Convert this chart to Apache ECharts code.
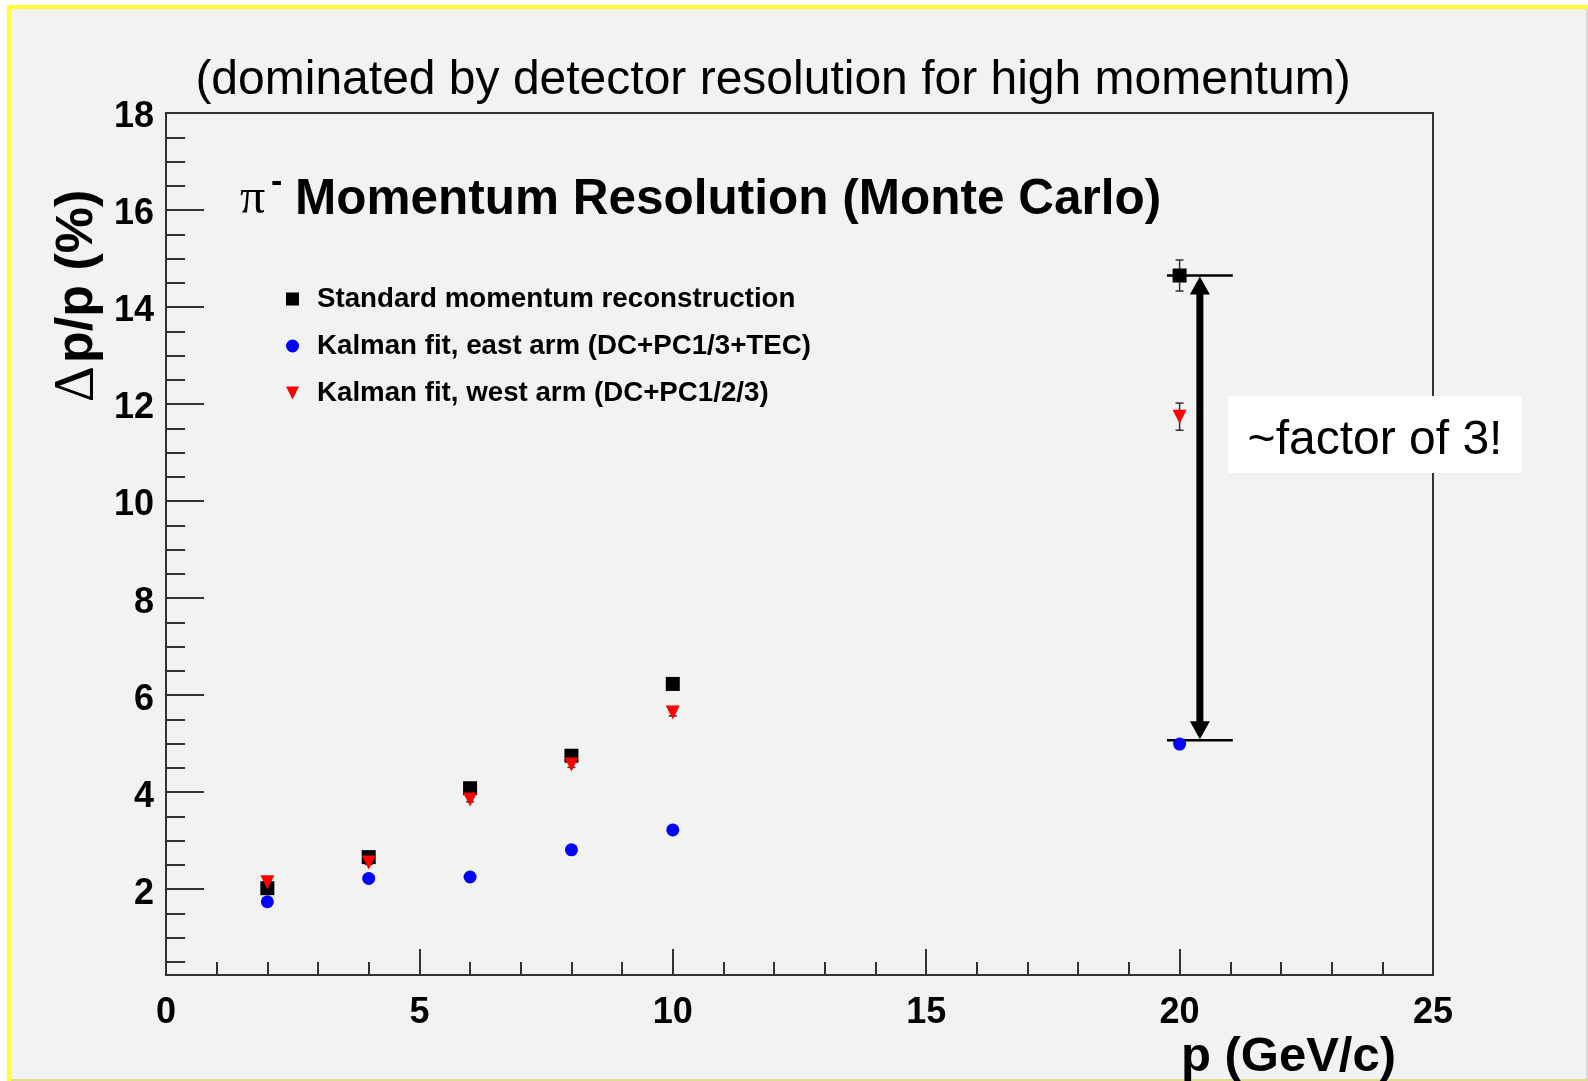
<!DOCTYPE html>
<html><head><meta charset="utf-8">
<script src="https://cdn.jsdelivr.net/npm/echarts@6/dist/echarts.min.js"></script>
<style>html,body{margin:0;padding:0;background:#fff;}#c{width:1588px;height:1081px;}</style>
</head><body><div id="c"></div>
<script>
// ---- data ----
const pValues = [2, 4, 6, 8, 10, 20];
const standardRes = [2.02, 2.66, 4.08, 4.75, 6.23, 14.65];
const standardErr = [0.03, 0.04, 0.05, 0.06, 0.08, 0.32];
const eastRes = [1.74, 2.22, 2.25, 2.81, 3.22, 4.99];
const eastErr = [0.02, 0.03, 0.03, 0.04, 0.05, 0.06];
const westRes = [2.14, 2.55, 3.85, 4.57, 5.64, 11.74];
const westErr = [0.03, 0.04, 0.05, 0.06, 0.07, 0.28];
const seriesNames = ['Standard momentum reconstruction', 'Kalman fit, east arm (DC+PC1/3+TEC)', 'Kalman fit, west arm (DC+PC1/2/3)'];
const bracketX = [19.75, 21.05];
const bracketY = [14.65, 5.07];
const arrowX = 20.4;
const xRange = [0, 25];
const yRange = [0.23, 18];
const subtitleText = '(dominated by detector resolution for high momentum)';
const titleText = 'Momentum Resolution (Monte Carlo)';
const noteText = '~factor of 3!';

const FONT = '"Liberation Sans", Arial, Helvetica, sans-serif';
const SERIF = '"Liberation Serif", "Times New Roman", serif';

function pts(ys){ return pValues.map((x,i)=>[x, ys[i]]); }
function errPts(ys, es){ return pValues.map((x,i)=>[x, ys[i], es[i]]); }

function renderErr(params, api){
  const x = api.value(0), y = api.value(1), e = api.value(2);
  const hi = api.coord([x, y + e]), lo = api.coord([x, y - e]);
  const cw = 4, st = {stroke:'#333', lineWidth:1.5};
  return {type:'group', children:[
    {type:'line', shape:{x1:hi[0], y1:hi[1], x2:lo[0], y2:lo[1]}, style:st},
    {type:'line', shape:{x1:hi[0]-cw, y1:hi[1], x2:hi[0]+cw, y2:hi[1]}, style:st},
    {type:'line', shape:{x1:lo[0]-cw, y1:lo[1], x2:lo[0]+cw, y2:lo[1]}, style:st}
  ]};
}

function renderAnno(params, api){
  const children = [];
  bracketY.forEach(v => {
    const a = api.coord([bracketX[0], v]), b = api.coord([bracketX[1], v]);
    children.push({type:'line', shape:{x1:a[0], y1:a[1], x2:b[0], y2:b[1]}, style:{stroke:'#000', lineWidth:2.5}});
  });
  const top = api.coord([arrowX, bracketY[0]]), bot = api.coord([arrowX, bracketY[1]]);
  const hw = 10, hh = 19;
  children.push({type:'line', shape:{x1:top[0], y1:top[1]+hh-1, x2:bot[0], y2:bot[1]-hh+1}, style:{stroke:'#000', lineWidth:7}});
  children.push({type:'polygon', shape:{points:[[top[0], top[1]+1], [top[0]-hw, top[1]+hh], [top[0]+hw, top[1]+hh]]}, style:{fill:'#000'}});
  children.push({type:'polygon', shape:{points:[[bot[0], bot[1]-1], [bot[0]-hw, bot[1]-hh], [bot[0]+hw, bot[1]-hh]]}, style:{fill:'#000'}});
  return {type:'group', children};
}

const chart = echarts.init(document.getElementById('c'), null, {renderer:'canvas'});
const axisColor = '#333';
chart.setOption({
  animation: false,
  backgroundColor: '#ffffff',
  textStyle: {fontFamily: FONT},
  grid: {left:166, right:155, top:113, bottom:106, show:true, borderColor:axisColor, borderWidth:2, backgroundColor:'transparent'},
  legend: {
    orient:'vertical', left:281, top:280, itemWidth:13, itemHeight:13, itemGap:19,
    textStyle:{fontSize:27.7, fontWeight:'bold', fontFamily:FONT, color:'#000', padding:[0,0,0,13]},
    data:[{name:seriesNames[0], icon:'rect'}, {name:seriesNames[1], icon:'circle'}, {name:seriesNames[2], icon:'path://M0,0L10,0L5,10Z'}]
  },
  xAxis: {
    type:'value', min:xRange[0], max:xRange[1], interval:5,
    axisLine:{show:true, onZero:false, lineStyle:{color:axisColor, width:2}},
    axisTick:{show:true, inside:true, length:26, lineStyle:{color:axisColor, width:2}},
    minorTick:{show:true, splitNumber:5, length:13, lineStyle:{color:axisColor, width:2}},
    axisLabel:{margin:20, fontSize:36, fontWeight:'bold', color:'#000', fontFamily:FONT},
    splitLine:{show:false}
  },
  yAxis: [
    {
      type:'value', min:yRange[0], max:yRange[1], splitNumber:9,
      axisLine:{show:true, onZero:false, lineStyle:{color:axisColor, width:2}},
      axisTick:{show:true, inside:true, length:38, lineStyle:{color:axisColor, width:2}},
      axisLabel:{margin:12, showMinLabel:false,
        formatter: v => (Math.abs(v - Math.round(v)) < 1e-6 && Math.round(v) % 2 === 0) ? '{v|' + Math.round(v) + '}' : '',
        rich:{v:{fontSize:36, fontWeight:'bold', color:'#000', fontFamily:FONT, padding:[9,0,0,0]}}},
      splitLine:{show:false}
    },
    {
      type:'value', min:yRange[0], max:yRange[1], splitNumber:36, position:'left', offset:0,
      axisLine:{show:false},
      axisTick:{show:true, inside:true, length:19, lineStyle:{color:axisColor, width:2}},
      axisLabel:{show:false}, splitLine:{show:false}
    }
  ],
  series: [
    {name:'errStd', type:'custom', renderItem:renderErr, data:errPts(standardRes, standardErr), encode:{x:0, y:1}, z:2, silent:true},
    {name:'errWest', type:'custom', renderItem:renderErr, data:errPts(westRes, westErr), encode:{x:0, y:1}, z:2, silent:true},
    {name:'errEast', type:'custom', renderItem:renderErr, data:errPts(eastRes, eastErr), encode:{x:0, y:1}, z:2, silent:true},
    {name:'annotation', type:'custom', renderItem:renderAnno, data:[[arrowX, bracketY[0]]], encode:{x:0, y:1}, z:4, silent:true, clip:false},
    {name:seriesNames[0], type:'scatter', symbol:'rect', symbolSize:14, data:pts(standardRes), itemStyle:{color:'#000', opacity:1}, z:5},
    {name:seriesNames[1], type:'scatter', symbol:'circle', symbolSize:13, data:pts(eastRes), itemStyle:{color:'#0000ff', opacity:1}, z:5},
    {name:seriesNames[2], type:'scatter', symbol:'path://M0,0L10,0L5,10Z', symbolSize:[14,14], data:pts(westRes), itemStyle:{color:'#ff0000', opacity:1}, z:6}
  ],
  graphic: [
    {type:'rect', z:-100, shape:{x:7, y:5, width:1581, height:1076}, style:{fill:'#ffff33'}},
    {type:'rect', z:-99, shape:{x:11, y:9, width:1575, height:1070}, style:{fill:'#f2f2f2'}},
    {type:'rect', z:-99, shape:{x:11, y:1079, width:1577, height:2}, style:{fill:'#dede8c'}},
    {type:'rect', z:-99, shape:{x:1586, y:9, width:2, height:1070}, style:{fill:'#d6d6d6'}},
    {type:'text', z:100, x:773, y:81, style:{text:subtitleText, font:'48px '+FONT, fill:'#000', align:'center', verticalAlign:'middle', textAlign:'center', textVerticalAlign:'middle'}},
    {type:'text', z:100, x:240, y:200, style:{text:'\u03c0', font:'50px '+SERIF, fill:'#000', align:'left', verticalAlign:'middle', textAlign:'left', textVerticalAlign:'middle'}},
    {type:'text', z:100, x:271, y:183, style:{text:'-', font:'bold 34px '+FONT, fill:'#000', align:'left', verticalAlign:'middle', textAlign:'left', textVerticalAlign:'middle'}},
    {type:'text', z:100, x:295, y:200, style:{text:titleText, font:'bold 49.5px '+FONT, fill:'#000', align:'left', verticalAlign:'middle', textAlign:'left', textVerticalAlign:'middle'}},
    {type:'text', z:100, x:78, y:296, rotation:Math.PI/2, style:{text:'{d|\u0394} {b|p/p (%)}', rich:{d:{font:'56px '+SERIF, fill:'#000'}, b:{font:'bold 52px '+FONT, fill:'#000'}}, align:'center', verticalAlign:'middle', textAlign:'center', textVerticalAlign:'middle'}},
    {type:'text', z:100, x:1396, y:1057, style:{text:'p (GeV/c)', font:'bold 49px '+FONT, fill:'#000', align:'right', verticalAlign:'middle', textAlign:'right', textVerticalAlign:'middle'}},
    {type:'rect', z:100, shape:{x:1228, y:396, width:294, height:77}, style:{fill:'#ffffff'}},
    {type:'text', z:101, x:1375, y:441, style:{text:noteText, font:'48px '+FONT, fill:'#000', align:'center', verticalAlign:'middle', textAlign:'center', textVerticalAlign:'middle'}}
  ]
});
</script></body></html>
